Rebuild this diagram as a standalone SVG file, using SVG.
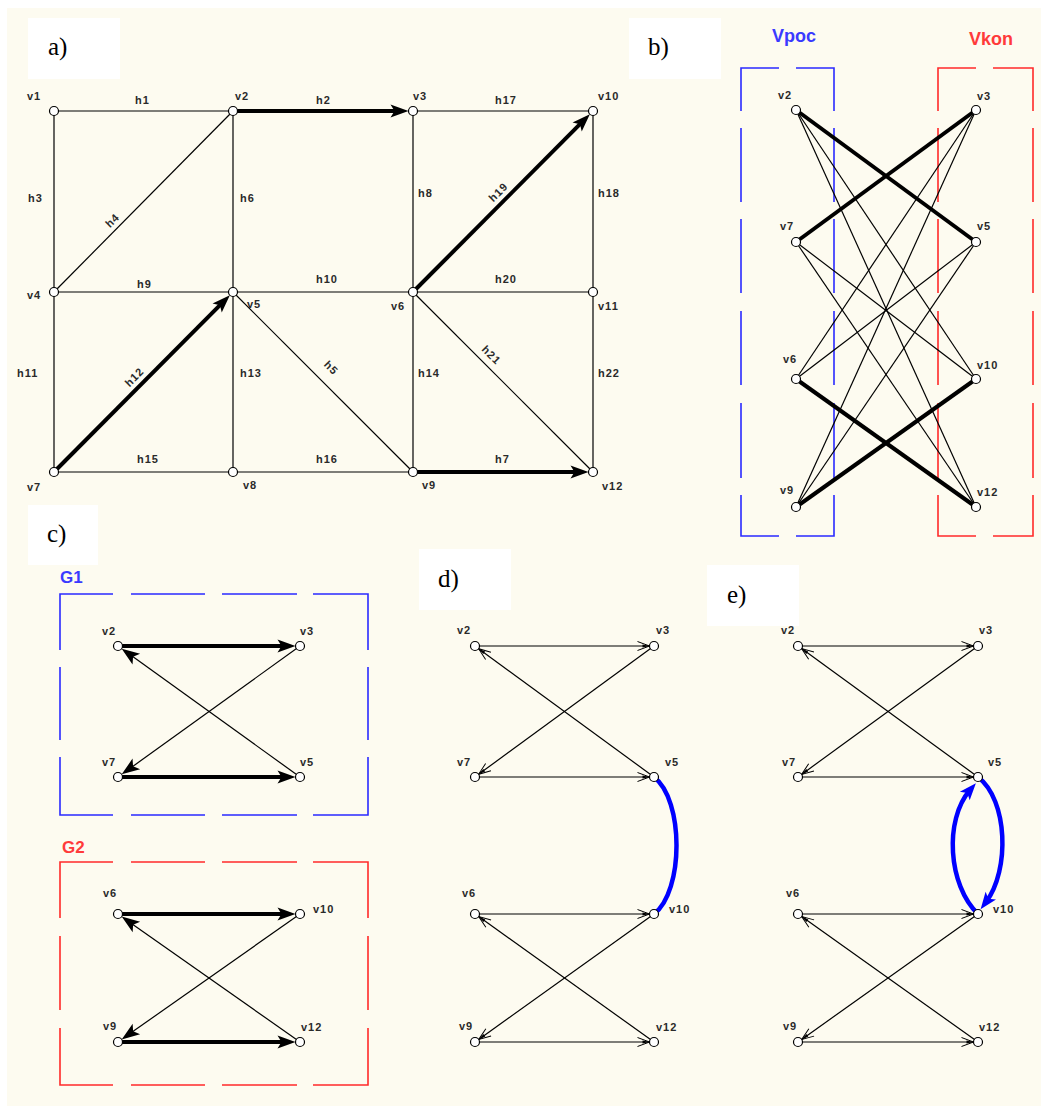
<svg xmlns="http://www.w3.org/2000/svg" width="1044" height="1106" viewBox="0 0 1044 1106">
<style>
.bg{fill:#fdfbf0}
.box{fill:#fff}
.pl{font-family:"Liberation Serif","Times New Roman",serif;font-size:25px;fill:#000}
.lbl{font-family:"Liberation Sans",Arial,sans-serif;font-size:11px;font-weight:bold;fill:#2a2a2a;letter-spacing:1px}
.node circle{fill:#fff;stroke:#000;stroke-width:1.2}
.e{stroke:#000;stroke-width:1.2;fill:none}
.t{stroke:#000;stroke-width:4;fill:none}
.cb{stroke:#0000ff;stroke-width:4.5;fill:none}
.db{stroke:#2a2aff;stroke-width:1.6;fill:none}
.dr{stroke:#ff2a2a;stroke-width:1.6;fill:none}
.gb{font-family:"Liberation Sans",Arial,sans-serif;font-size:17px;font-weight:bold;fill:#3a3aff}
.gr{font-family:"Liberation Sans",Arial,sans-serif;font-size:17px;font-weight:bold;fill:#ff3a3a}
.gt{font-size:18px}
</style>
<defs>
<marker id="fa" markerUnits="userSpaceOnUse" markerWidth="20" markerHeight="14" refX="10" refY="7" orient="auto" overflow="visible">
<path d="M0,0.5 L18,7 L0,13.5 L4,7 Z" fill="#000"/>
</marker>
<marker id="ba" markerUnits="userSpaceOnUse" markerWidth="20" markerHeight="14" refX="8" refY="7" orient="auto" overflow="visible">
<path d="M0,0.5 L17,7 L0,13.5 L4,7 Z" fill="#0000ff"/>
</marker>
<marker id="oa" markerUnits="userSpaceOnUse" markerWidth="14" markerHeight="10" refX="12" refY="4.5" orient="auto" overflow="visible">
<path d="M0,0 L12,4.5 L0,9" fill="none" stroke="#000" stroke-width="1"/>
<path d="M5,3 L12,4.5 L5,6 Z" fill="#000"/>
</marker>
</defs>
<rect class="bg" x="7" y="8" width="1034" height="1098"/>

<!-- dashed group frames -->
<g id="frames">
<path class="db" d="M741,111 V68 H779 M796,68 H834 V111 M741,128 V202 M834,128 V202 M741,219 V293 M834,219 V293 M741,311 V385 M834,311 V385 M741,403 V478 M834,403 V478 M741,495 V536 H779 M796,536 H834 V495"/>
<path class="dr" d="M938,111 V68 H976 M993,68 H1033 V111 M938,128 V202 M1033,128 V202 M938,219 V293 M1033,219 V293 M938,311 V385 M1033,311 V385 M938,403 V478 M1033,403 V478 M938,495 V536 H976 M993,536 H1033 V495"/>
<path class="db" d="M60,650 V594 H113 M131,594 H205 M222,594 H297 M313,594 H368 V650 M60,667 V740 M368,667 V740 M60,757 V815 H113 M131,815 H205 M222,815 H297 M313,815 H368 V757"/>
<path class="dr" d="M60,918 V862 H113 M131,862 H205 M222,862 H297 M313,862 H368 V918 M60,936 V1010 M368,936 V1010 M60,1028 V1085 H113 M131,1085 H205 M222,1085 H297 M313,1085 H368 V1028"/>
<text class="gb gt" x="772" y="42">Vpoc</text>
<text class="gr gt" x="969" y="45">Vkon</text>
<text class="gb" x="60" y="583">G1</text>
<text class="gr" x="62" y="853">G2</text>
</g>

<g id="connectors">
<!-- panel a -->
<line class="e" x1="54" y1="111" x2="233" y2="111"/>
<line class="e" x1="54" y1="111" x2="54" y2="292"/>
<line class="e" x1="54" y1="292" x2="233" y2="111"/>
<line class="e" x1="233" y1="111" x2="233" y2="292"/>
<line class="e" x1="413" y1="111" x2="593" y2="111"/>
<line class="e" x1="413" y1="111" x2="413" y2="292"/>
<line class="e" x1="593" y1="111" x2="593" y2="292"/>
<line class="e" x1="54" y1="292" x2="233" y2="292"/>
<line class="e" x1="233" y1="292" x2="413" y2="292"/>
<line class="e" x1="413" y1="292" x2="593" y2="292"/>
<line class="e" x1="54" y1="292" x2="54" y2="472"/>
<line class="e" x1="233" y1="292" x2="233" y2="472"/>
<line class="e" x1="233" y1="292" x2="413" y2="472"/>
<line class="e" x1="413" y1="292" x2="413" y2="472"/>
<line class="e" x1="413" y1="292" x2="593" y2="472"/>
<line class="e" x1="593" y1="292" x2="593" y2="472"/>
<line class="e" x1="54" y1="472" x2="233" y2="472"/>
<line class="e" x1="233" y1="472" x2="413" y2="472"/>
<line class="t" x1="233" y1="111" x2="400.5" y2="111" marker-end="url(#fa)"/>
<line class="t" x1="413" y1="292" x2="584.2" y2="119.9" marker-end="url(#fa)"/>
<line class="t" x1="54" y1="472" x2="224.2" y2="300.9" marker-end="url(#fa)"/>
<line class="t" x1="413" y1="472" x2="580.5" y2="472" marker-end="url(#fa)"/>
<g class="lbl">
<text x="135" y="104">h1</text>
<text x="316" y="104">h2</text>
<text x="495" y="104">h17</text>
<text x="28" y="202">h3</text>
<text x="240" y="202">h6</text>
<text x="418" y="197">h8</text>
<text x="598" y="197">h18</text>
<text x="137" y="288">h9</text>
<text x="316" y="283">h10</text>
<text x="495" y="283">h20</text>
<text x="17" y="377">h11</text>
<text x="240" y="377">h13</text>
<text x="418" y="377">h14</text>
<text x="598" y="377">h22</text>
<text x="137" y="463">h15</text>
<text x="316" y="463">h16</text>
<text x="495" y="463">h7</text>
<text transform="translate(54,292) rotate(-45.3)" x="92" y="-5" text-anchor="middle">h4</text>
<text transform="translate(413,292) rotate(-45.2)" x="131" y="-6" text-anchor="middle">h19</text>
<text transform="translate(54,472) rotate(-45.2)" x="124" y="-6" text-anchor="middle">h12</text>
<text transform="translate(233,292) rotate(45)" x="123" y="-12" text-anchor="middle">h5</text>
<text transform="translate(413,292) rotate(45)" x="100" y="-7" text-anchor="middle">h21</text>
</g>
<!-- panel b -->
<line class="e" x1="796" y1="110" x2="976" y2="379"/>
<line class="e" x1="796" y1="110" x2="976" y2="507"/>
<line class="e" x1="796" y1="242" x2="976" y2="379"/>
<line class="e" x1="796" y1="242" x2="976" y2="507"/>
<line class="e" x1="796" y1="379" x2="976" y2="110"/>
<line class="e" x1="796" y1="379" x2="976" y2="242"/>
<line class="e" x1="796" y1="507" x2="976" y2="110"/>
<line class="e" x1="796" y1="507" x2="976" y2="242"/>
<line class="t" x1="796" y1="110" x2="976" y2="242"/>
<line class="t" x1="796" y1="242" x2="976" y2="110"/>
<line class="t" x1="796" y1="379" x2="976" y2="507"/>
<line class="t" x1="796" y1="507" x2="976" y2="379"/>
<!-- panel c -->
<line class="t" x1="118" y1="646" x2="287.5" y2="646" marker-end="url(#fa)"/>
<line class="e" x1="300" y1="646" x2="128.2" y2="769.7" marker-end="url(#fa)"/>
<line class="t" x1="118" y1="777" x2="287.5" y2="777" marker-end="url(#fa)"/>
<line class="e" x1="300" y1="777" x2="128.2" y2="653.3" marker-end="url(#fa)"/>
<line class="t" x1="118" y1="914" x2="287.5" y2="914" marker-end="url(#fa)"/>
<line class="e" x1="300" y1="914" x2="128.2" y2="1034.8" marker-end="url(#fa)"/>
<line class="t" x1="118" y1="1042" x2="287.5" y2="1042" marker-end="url(#fa)"/>
<line class="e" x1="300" y1="1042" x2="128.2" y2="921.2" marker-end="url(#fa)"/>
<!-- panel d -->
<line class="e" x1="475" y1="646" x2="649.5" y2="646" marker-end="url(#oa)"/>
<line class="e" x1="654" y1="646" x2="478.6" y2="774.3" marker-end="url(#oa)"/>
<line class="e" x1="475" y1="777" x2="649.5" y2="777" marker-end="url(#oa)"/>
<line class="e" x1="654" y1="777" x2="478.6" y2="648.7" marker-end="url(#oa)"/>
<line class="e" x1="475" y1="914" x2="649.5" y2="914" marker-end="url(#oa)"/>
<line class="e" x1="654" y1="914" x2="478.7" y2="1039.4" marker-end="url(#oa)"/>
<line class="e" x1="475" y1="1042" x2="649.5" y2="1042" marker-end="url(#oa)"/>
<line class="e" x1="654" y1="1042" x2="478.7" y2="916.6" marker-end="url(#oa)"/>
<path class="cb" d="M654,777 C684,800 684,891 654,914"/>
<!-- panel e -->
<line class="e" x1="798" y1="646" x2="973.5" y2="646" marker-end="url(#oa)"/>
<line class="e" x1="978" y1="646" x2="801.6" y2="774.4" marker-end="url(#oa)"/>
<line class="e" x1="798" y1="777" x2="973.5" y2="777" marker-end="url(#oa)"/>
<line class="e" x1="978" y1="777" x2="801.6" y2="648.6" marker-end="url(#oa)"/>
<line class="e" x1="798" y1="914" x2="973.5" y2="914" marker-end="url(#oa)"/>
<line class="e" x1="978" y1="914" x2="801.7" y2="1039.4" marker-end="url(#oa)"/>
<line class="e" x1="798" y1="1042" x2="973.5" y2="1042" marker-end="url(#oa)"/>
<line class="e" x1="978" y1="1042" x2="801.7" y2="916.6" marker-end="url(#oa)"/>
<path class="cb" d="M978,914 C948,885 944,820 970,790" marker-end="url(#ba)"/>
<path class="cb" d="M978,777 C1008,800 1010,870 986,902" marker-end="url(#ba)"/>
</g>

<!-- panel a nodes -->
<g id="a-v1" class="node"><circle cx="54" cy="111" r="4.5"/><text class="lbl" x="27" y="100">v1</text></g>
<g id="a-v2" class="node"><circle cx="233" cy="111" r="4.5"/><text class="lbl" x="235" y="100">v2</text></g>
<g id="a-v3" class="node"><circle cx="413" cy="111" r="4.5"/><text class="lbl" x="413" y="100">v3</text></g>
<g id="a-v10" class="node"><circle cx="593" cy="111" r="4.5"/><text class="lbl" x="598" y="100">v10</text></g>
<g id="a-v4" class="node"><circle cx="54" cy="292" r="4.5"/><text class="lbl" x="27" y="299">v4</text></g>
<g id="a-v5" class="node"><circle cx="233" cy="292" r="4.5"/><text class="lbl" x="247" y="308">v5</text></g>
<g id="a-v6" class="node"><circle cx="413" cy="292" r="4.5"/><text class="lbl" x="391" y="310">v6</text></g>
<g id="a-v11" class="node"><circle cx="593" cy="292" r="4.5"/><text class="lbl" x="598" y="310">v11</text></g>
<g id="a-v7" class="node"><circle cx="54" cy="472" r="4.5"/><text class="lbl" x="27" y="491">v7</text></g>
<g id="a-v8" class="node"><circle cx="233" cy="472" r="4.5"/><text class="lbl" x="243" y="489">v8</text></g>
<g id="a-v9" class="node"><circle cx="413" cy="472" r="4.5"/><text class="lbl" x="422" y="489">v9</text></g>
<g id="a-v12" class="node"><circle cx="593" cy="472" r="4.5"/><text class="lbl" x="602" y="490">v12</text></g>

<!-- panel b nodes -->
<g id="b-v2" class="node"><circle cx="796" cy="110" r="4.5"/><text class="lbl" x="778" y="99">v2</text></g>
<g id="b-v7" class="node"><circle cx="796" cy="242" r="4.5"/><text class="lbl" x="780" y="230">v7</text></g>
<g id="b-v6" class="node"><circle cx="796" cy="379" r="4.5"/><text class="lbl" x="783" y="363">v6</text></g>
<g id="b-v9" class="node"><circle cx="796" cy="507" r="4.5"/><text class="lbl" x="780" y="494">v9</text></g>
<g id="b-v3" class="node"><circle cx="976" cy="110" r="4.5"/><text class="lbl" x="977" y="100">v3</text></g>
<g id="b-v5" class="node"><circle cx="976" cy="242" r="4.5"/><text class="lbl" x="977" y="230">v5</text></g>
<g id="b-v10" class="node"><circle cx="976" cy="379" r="4.5"/><text class="lbl" x="977" y="369">v10</text></g>
<g id="b-v12" class="node"><circle cx="976" cy="507" r="4.5"/><text class="lbl" x="977" y="496">v12</text></g>

<!-- panel c nodes -->
<g id="c-v2" class="node"><circle cx="118" cy="646" r="4.5"/><text class="lbl" x="102" y="635">v2</text></g>
<g id="c-v3" class="node"><circle cx="300" cy="646" r="4.5"/><text class="lbl" x="300" y="635">v3</text></g>
<g id="c-v7" class="node"><circle cx="118" cy="777" r="4.5"/><text class="lbl" x="102" y="766">v7</text></g>
<g id="c-v5" class="node"><circle cx="300" cy="777" r="4.5"/><text class="lbl" x="300" y="766">v5</text></g>
<g id="c-v6" class="node"><circle cx="118" cy="914" r="4.5"/><text class="lbl" x="103" y="897">v6</text></g>
<g id="c-v10" class="node"><circle cx="300" cy="914" r="4.5"/><text class="lbl" x="313" y="913">v10</text></g>
<g id="c-v9" class="node"><circle cx="118" cy="1042" r="4.5"/><text class="lbl" x="103" y="1030">v9</text></g>
<g id="c-v12" class="node"><circle cx="300" cy="1042" r="4.5"/><text class="lbl" x="301" y="1031">v12</text></g>

<!-- panel d nodes -->
<g id="d-v2" class="node"><circle cx="475" cy="646" r="4.5"/><text class="lbl" x="457" y="634">v2</text></g>
<g id="d-v3" class="node"><circle cx="654" cy="646" r="4.5"/><text class="lbl" x="656" y="634">v3</text></g>
<g id="d-v7" class="node"><circle cx="475" cy="777" r="4.5"/><text class="lbl" x="457" y="766">v7</text></g>
<g id="d-v5" class="node"><circle cx="654" cy="777" r="4.5"/><text class="lbl" x="665" y="766">v5</text></g>
<g id="d-v6" class="node"><circle cx="475" cy="914" r="4.5"/><text class="lbl" x="462" y="897">v6</text></g>
<g id="d-v10" class="node"><circle cx="654" cy="914" r="4.5"/><text class="lbl" x="669" y="913">v10</text></g>
<g id="d-v9" class="node"><circle cx="475" cy="1042" r="4.5"/><text class="lbl" x="459" y="1030">v9</text></g>
<g id="d-v12" class="node"><circle cx="654" cy="1042" r="4.5"/><text class="lbl" x="656" y="1031">v12</text></g>

<!-- panel e nodes -->
<g id="e-v2" class="node"><circle cx="798" cy="646" r="4.5"/><text class="lbl" x="781" y="634">v2</text></g>
<g id="e-v3" class="node"><circle cx="978" cy="646" r="4.5"/><text class="lbl" x="979" y="634">v3</text></g>
<g id="e-v7" class="node"><circle cx="798" cy="777" r="4.5"/><text class="lbl" x="782" y="766">v7</text></g>
<g id="e-v5" class="node"><circle cx="978" cy="777" r="4.5"/><text class="lbl" x="988" y="766">v5</text></g>
<g id="e-v6" class="node"><circle cx="798" cy="914" r="4.5"/><text class="lbl" x="786" y="897">v6</text></g>
<g id="e-v10" class="node"><circle cx="978" cy="914" r="4.5"/><text class="lbl" x="993" y="913">v10</text></g>
<g id="e-v9" class="node"><circle cx="798" cy="1042" r="4.5"/><text class="lbl" x="783" y="1030">v9</text></g>
<g id="e-v12" class="node"><circle cx="978" cy="1042" r="4.5"/><text class="lbl" x="979" y="1031">v12</text></g>

<!-- panel labels -->
<g id="label-a"><rect class="box" x="28" y="18" width="92" height="61"/><text class="pl" x="48" y="55">a)</text></g>
<g id="label-b"><rect class="box" x="629" y="18" width="92" height="61"/><text class="pl" x="648" y="55">b)</text></g>
<g id="label-c"><rect class="box" x="28" y="505" width="70" height="60"/><text class="pl" x="47" y="542">c)</text></g>
<g id="label-d"><rect class="box" x="419" y="549" width="92" height="61"/><text class="pl" x="438" y="587">d)</text></g>
<g id="label-e"><rect class="box" x="707" y="565" width="92" height="61"/><text class="pl" x="727" y="603">e)</text></g>
</svg>
